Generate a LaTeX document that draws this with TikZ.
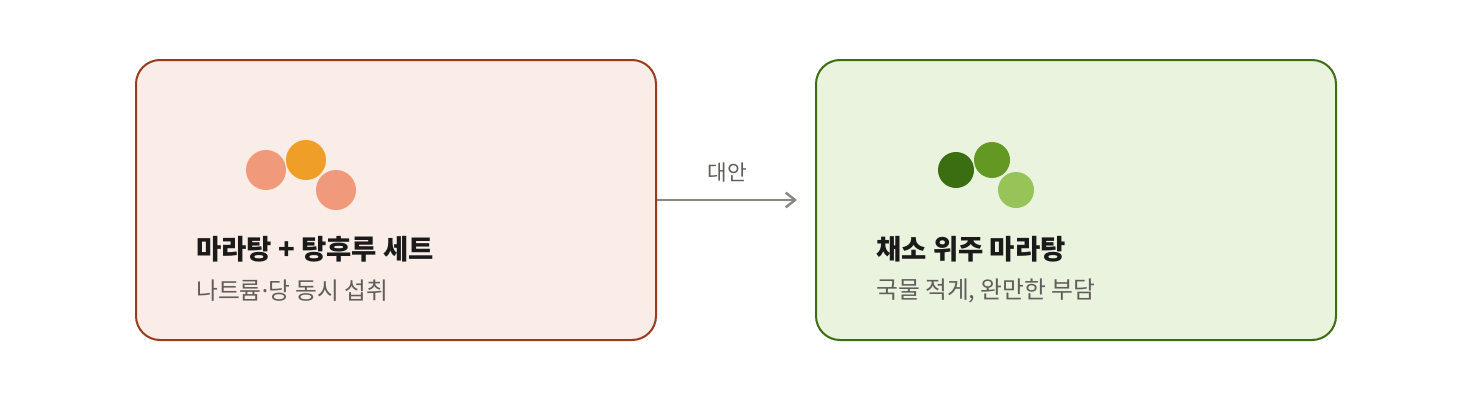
\documentclass[tikz,border=0pt]{standalone}
\usepackage{fontspec}
\newfontfamily\kr{Noto Sans CJK KR}
\newfontfamily\dotfont{Noto Sans}
\usetikzlibrary{arrows.meta}

\definecolor{coralfill}{HTML}{FAECE7}
\definecolor{coralline}{HTML}{993C1D}
\definecolor{coraldot}{HTML}{F0997B}
\definecolor{amberdot}{HTML}{EF9F27}
\definecolor{greenfill}{HTML}{EAF3DE}
\definecolor{greenline}{HTML}{3B6D11}
\definecolor{greenmid}{HTML}{639922}
\definecolor{greenlight}{HTML}{97C459}
\definecolor{titletext}{HTML}{1A1A1A}
\definecolor{subtext}{HTML}{5F5E5A}
\definecolor{arrowgray}{HTML}{888780}

\tikzset{
	card/.style = {draw, line width = 1.5pt, rounded corners = 18pt, minimum width = 390pt, minimum height = 210pt},
	cardtitle/.style = {anchor = west, inner sep = 0pt, text = titletext, font = \kr\bfseries\fontsize{20.6}{24}\selectfont},
	cardsub/.style = {anchor = west, inner sep = 0pt, text = subtext, font = \kr\fontsize{17.8}{21}\selectfont}
}

\begin{document}
\begin{tikzpicture}[x = 0.75pt, y = -0.75pt]

	\useasboundingbox (0, 0) rectangle (1472, 400);

	% Cards
	
	\node [card, draw = coralline, fill = coralfill] (setcard) at (396, 200) {};
	\node [card, draw = greenline, fill = greenfill] (vegcard) at (1076, 200) {};
	
	% Dots above the titles
	
	\begin{scope}
	
		\fill [coraldot] (266, 170) circle (20);
		\fill [amberdot] (306, 160) circle (20);
		\fill [coraldot] (336, 190) circle (20);
		
		\fill [greenline] (956, 170) circle (18);
		\fill [greenmid] (992, 160) circle (18);
		\fill [greenlight] (1016, 190) circle (18);
	
	\end{scope}
	
	% Texts
	
	\node [cardtitle] (settitle) at (196, 249) {마라탕 + 탕후루 세트};
	\node [cardsub] (setsub) at (196, 291) {나트륨{\dotfont ·}당 동시 섭취};
	
	\node [cardtitle] (vegtitle) at (876, 249) {채소 위주 마라탕};
	\node [cardsub] (vegsub) at (876, 291) {국물 적게, 완만한 부담};
	
	% Arrow between the cards
	
	\coordinate (altend) at (797, 200);
	\draw [arrowgray, line width = 1.8pt, -{Straight Barb[length = 7pt, width = 11pt]}] (setcard.east) -- node [midway, above = 9pt, text = subtext, font = \kr\fontsize{16}{19}\selectfont] (altlabel) {대안} (altend);

\end{tikzpicture}
\end{document}
